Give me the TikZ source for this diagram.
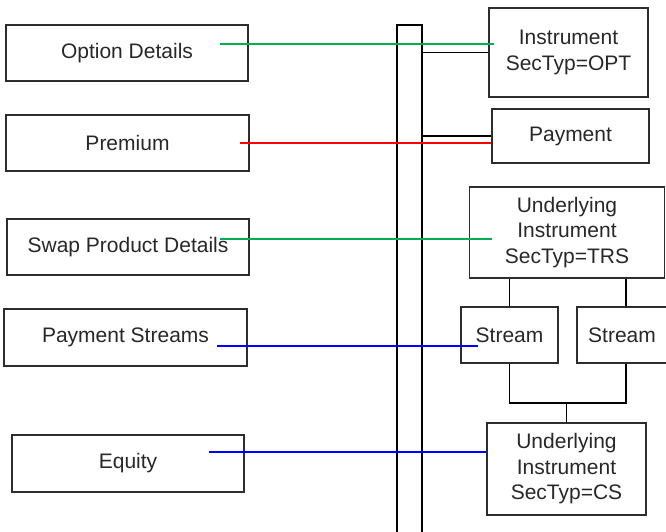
\documentclass[tikz,border=0pt]{standalone}
\usepackage{fontspec}
\setmainfont{Liberation Sans}
\definecolor{lgreen}{RGB}{0,176,80}
\definecolor{lred}{RGB}{255,0,0}
\definecolor{lblue}{RGB}{0,0,255}
\definecolor{boxline}{RGB}{45,45,45}
\definecolor{txt}{RGB}{40,40,40}
\begin{document}
\begin{tikzpicture}[x=1pt,y=-1pt,
  box/.style={draw=boxline,line width=1.8pt,fill=white,align=center,inner sep=0pt,
    text=txt,font=\fontsize{21}{25.5}\selectfont},
  conn/.style={draw=black,line width=1.4pt},
  gline/.style={draw=lgreen,line width=2.4pt},
  rline/.style={draw=lred,line width=2.4pt},
  bline/.style={draw=lblue,line width=2.4pt}]
\useasboundingbox (0,0) rectangle (666,531);
% left boxes
\node[box,minimum width=242pt,minimum height=56pt] (od) at (127,53) {Option Details};
\node[box,minimum width=243pt,minimum height=56pt] (prem) at (127.5,143) {Premium};
\node[box,minimum width=242pt,minimum height=56pt] (swap) at (128,247) {Swap Product Details};
\node[box,minimum width=243pt,minimum height=57pt] (ps) at (125.5,337.5) {Payment Streams};
\node[box,minimum width=232pt,minimum height=57pt] (eq) at (128,463.5) {Equity};
% bar
\node[draw=black,line width=1.4pt,minimum width=25pt,minimum height=520pt,inner sep=0pt] (bar) at (409.5,285) {};
% right boxes
\node[box,minimum width=159pt,minimum height=89pt] (opt) at (568.5,52.5) {Instrument\\SecTyp=OPT};
\node[box,minimum width=157pt,minimum height=54pt] (pay) at (570.5,136) {Payment};
\node[box,minimum width=195pt,minimum height=91pt] (trs) at (567,232.5) {Underlying\\Instrument\\SecTyp=TRS};
\node[box,minimum width=97pt,minimum height=56pt] (s1) at (509.5,335) {Stream};
\node[box,minimum width=90pt,minimum height=56pt] (s2) at (622,335) {Stream};
\node[box,minimum width=159pt,minimum height=92pt] (cs) at (566.5,469) {Underlying\\Instrument\\SecTyp=CS};
% black connectors
\draw[conn] (opt.west) -- (opt.west -| bar.east);
\draw[conn] (pay.west) -- (pay.west -| bar.east);
\coordinate (x2) at (626,0);
\coordinate (jy) at (0,403);
\draw[conn] (s1.north) -- (s1.north |- trs.south);
\draw[conn] (x2 |- s2.north) -- (x2 |- trs.south);
\draw[conn] (s1.south) -- (s1.south |- jy) -- (x2 |- jy) -- (x2 |- s2.south);
\draw[conn] (cs.north) -- (cs.north |- jy);
% coloured connectors
\coordinate (g1s) at (220,44);
\coordinate (g1e) at (494,44);
\coordinate (rs) at (240,143);
\coordinate (g2s) at (220,239);
\coordinate (g2e) at (492,239);
\coordinate (b1s) at (217,346);
\coordinate (b1e) at (478,346);
\coordinate (b2s) at (209,452);
\draw[gline] (g1s) -- (g1e);
\draw[rline] (rs) -- (rs -| pay.west);
\draw[gline] (g2s) -- (g2e);
\draw[bline] (b1s) -- (b1e);
\draw[bline] (b2s) -- (b2s -| cs.west);
\end{tikzpicture}
\end{document}
